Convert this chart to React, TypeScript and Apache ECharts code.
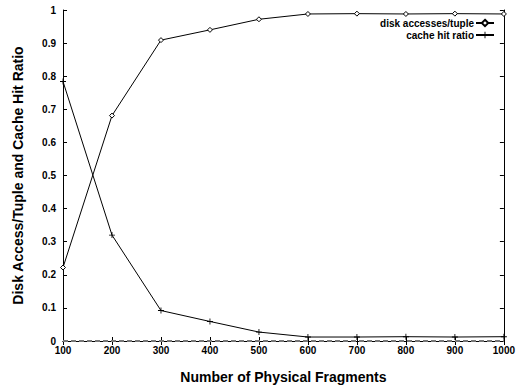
import React, { useEffect, useRef } from "react";
import * as echarts from "echarts";

const fragments = [100, 200, 300, 400, 500, 600, 700, 800, 900, 1000];
const diskAccesses = [0.222, 0.681, 0.909, 0.94, 0.972, 0.988, 0.989, 0.988, 0.989, 0.988];
const cacheHitRatio = [0.784, 0.32, 0.092, 0.059, 0.027, 0.012, 0.012, 0.013, 0.012, 0.013];
const seriesNames = ["disk accesses/tuple", "cache hit ratio"];
const xTitle = "Number of Physical Fragments";
const yTitle = "Disk Access/Tuple and Cache Hit Ratio";

const FONT = "'Liberation Sans', Arial, Helvetica, sans-serif";
const PLUS = "path://M6,0H8V6H14V8H8V14H6V8H0V6H6Z";

export default function App() {
  const ref = useRef<HTMLDivElement>(null);
  useEffect(() => {
    if (!ref.current) return;
    const chart = echarts.init(ref.current, null, { renderer: "svg" });
    const axisLine = { show: true, lineStyle: { color: "#000", width: 1 } };
    const tick = { show: true, inside: true, length: 4, lineStyle: { color: "#000", width: 1 } };
    const labelStyle = { color: "#000", fontFamily: FONT, fontWeight: "bold" as const, fontSize: 10 };
    chart.setOption({
      animation: false,
      backgroundColor: "#fff",
      grid: { left: 63, right: 13, top: 10, bottom: 47, containLabel: false },
      legend: {
        data: seriesNames,
        orient: "vertical",
        right: 23,
        top: 18,
        align: "right",
        padding: 0,
        itemGap: 2,
        itemWidth: 18,
        itemHeight: 8,
        textStyle: { color: "#000", fontFamily: FONT, fontWeight: "bold", fontSize: 10, padding: [0, -3, 0, 0] },
      },
      xAxis: [
        {
          type: "value",
          min: 100,
          max: 1000,
          interval: 100,
          name: xTitle,
          nameLocation: "middle",
          nameGap: 29,
          nameTextStyle: { color: "#000", fontFamily: FONT, fontWeight: "bold", fontSize: 14 },
          axisLine,
          axisTick: tick,
          axisLabel: {
            ...labelStyle,
            margin: 4,
            showMinLabel: true,
            showMaxLabel: true,
            formatter: (v: number) => String(v),
          },
          splitLine: { show: false },
        },
        {
          type: "value",
          position: "top",
          min: 100,
          max: 1000,
          interval: 100,
          axisLine,
          axisTick: tick,
          axisLabel: { show: false },
          splitLine: { show: false },
        },
      ],
      yAxis: [
        {
          type: "value",
          min: 0,
          max: 1,
          interval: 0.1,
          name: yTitle,
          nameLocation: "middle",
          nameGap: 38,
          nameTextStyle: { color: "#000", fontFamily: FONT, fontWeight: "bold", fontSize: 14 },
          axisLine,
          axisTick: tick,
          axisLabel: { ...labelStyle, margin: 7 },
          splitLine: { show: false },
        },
        {
          type: "value",
          position: "right",
          min: 0,
          max: 1,
          interval: 0.1,
          axisLine,
          axisTick: tick,
          axisLabel: { show: false },
          splitLine: { show: false },
        },
      ],
      series: [
        {
          name: seriesNames[0],
          type: "line",
          data: fragments.map((x, i) => [x, diskAccesses[i]]),
          symbol: "diamond",
          symbolSize: 5,
          lineStyle: { color: "#000", width: 1 },
          itemStyle: { color: "#fff", borderColor: "#000", borderWidth: 1 },
          markLine: {
            silent: true,
            symbol: "none",
            label: { show: false },
            lineStyle: { color: "#777", type: [5, 3], width: 2 },
            data: [{ yAxis: 0 }],
          },
          z: 3,
        },
        {
          name: seriesNames[1],
          type: "line",
          data: fragments.map((x, i) => [x, cacheHitRatio[i]]),
          symbol: PLUS,
          symbolSize: 6,
          lineStyle: { color: "#000", width: 1 },
          itemStyle: { color: "#000", borderWidth: 0 },
          z: 3,
        },
      ],
    });
    return () => chart.dispose();
  }, []);
  return <div ref={ref} style={{ position: "fixed", left: 0, top: 0, width: 518, height: 389 }} />;
}
